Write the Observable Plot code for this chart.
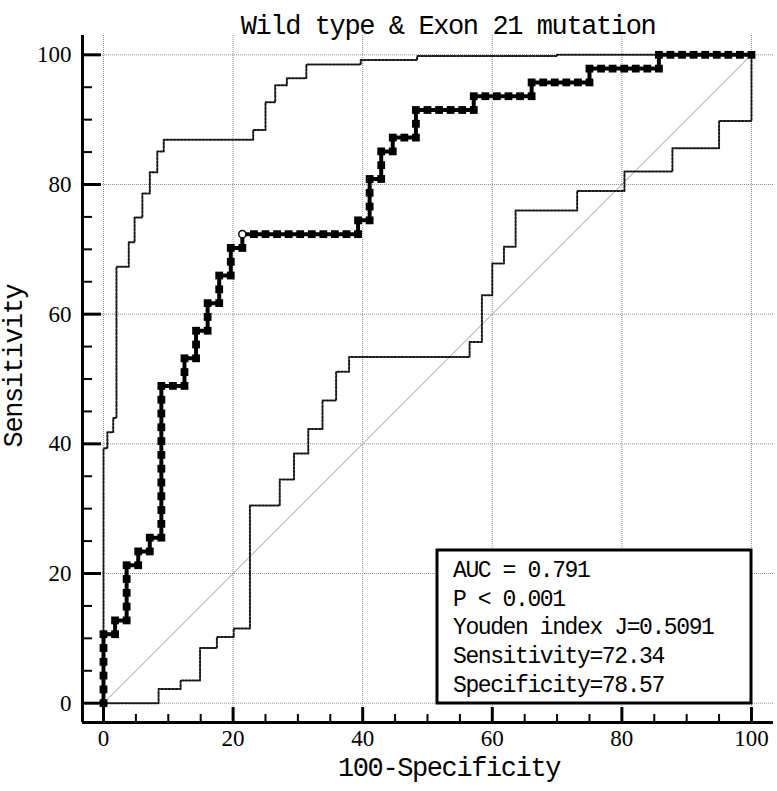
<!DOCTYPE html>
<html><head><meta charset="utf-8">
<script src="https://cdn.jsdelivr.net/npm/d3@7"></script>
<script src="https://cdn.jsdelivr.net/npm/@observablehq/plot@0.6"></script>
<style>
html,body{margin:0;padding:0;background:#fff;}
#chart{width:777px;height:791px;}
</style></head><body><div id="chart"></div>
<script>
// ---- text ----
const title = "Wild type & Exon 21 mutation";
const xLabel = "100-Specificity";
const yLabel = "Sensitivity";
const statsLines = ["AUC = 0.791", "P < 0.001", "Youden index J=0.5091", "Sensitivity=72.34", "Specificity=78.57"];

// ---- ticks ----
const majorTicks = [0, 20, 40, 60, 80, 100];
const minorTicks = [5, 10, 15, 25, 30, 35, 45, 50, 55, 65, 70, 75, 85, 90, 95];

// ---- ROC curve: counts of false positives (of 56 negatives) and true positives (of 47 positives) ----
const nNeg = 56;
const nPos = 47;
const rocFP = [0,0,0,0,0,0,1,1,2,2,2,2,2,3,3,4,4,5,5,5,5,5,5,5,5,5,5,5,5,6,7,7,7,8,8,8,9,9,9,10,10,10,11,11,11,12,12,
  13,14,15,16,17,18,19,20,21,22,22,23,23,23,23,24,24,24,25,25,26,27,27,27,28,29,30,31,32,32,33,34,35,36,37,37,
  38,39,40,41,42,42,43,44,45,46,47,48,48,49,50,51,52,53,54,55,56];
const rocTP = [0,1,2,3,4,5,5,6,6,7,8,9,10,10,11,11,12,12,13,14,15,16,17,18,19,20,21,22,23,23,23,24,25,25,26,27,27,28,29,29,30,31,31,32,33,33,34,
  34,34,34,34,34,34,34,34,34,34,35,35,36,37,38,38,39,40,40,41,41,41,42,43,43,43,43,43,43,44,44,44,44,44,44,45,
  45,45,45,45,45,46,46,46,46,46,46,46,47,47,47,47,47,47,47,47,47];
// optimal criterion (Youden)
const optFP = 12;
const optTP = 34;

// ---- confidence bands (step corners) ----
// upper band: vertical then horizontal (step-before)
const upperX = [0, 0.6, 1.5, 2.0, 3.9, 4.8, 6.0, 7.15, 8.3, 9.3, 23.1, 25.0, 26.5, 28.3, 31.3, 39.7, 48.4, 70, 100];
const upperY = [0, 39.3, 41.8, 44.0, 67.3, 71.1, 74.9, 78.6, 81.9, 85.1, 86.9, 88.4, 92.7, 95.3, 96.4, 98.5, 99.2, 99.8, 100];
// lower band: horizontal then vertical (step-after)
const lowerX = [0, 8.5, 11.9, 14.9, 17.5, 20.1, 22.6, 27.2, 29.4, 31.6, 33.8, 35.9, 37.9, 56.5, 58.4, 60.0, 61.8, 63.6, 73.1, 80.4, 87.8, 95.0, 100];
const lowerY = [0, 2.2, 3.5, 8.5, 10.2, 11.5, 30.5, 34.5, 38.5, 42.3, 46.7, 51.1, 53.4, 55.7, 62.9, 67.8, 70.4, 76.0, 79.0, 82.0, 85.6, 89.8, 100];

// reference diagonal
const refLine = [0, 100];

// ---- build tables ----
const roc = rocFP.map((fp, i) => ({x: fp / nNeg * 100, y: rocTP[i] / nPos * 100, opt: fp === optFP && rocTP[i] === optTP}));
const optPoint = [{x: optFP / nNeg * 100, y: optTP / nPos * 100}];
const upper = upperX.map((x, i) => ({x, y: upperY[i]}));
const lower = lowerX.map((x, i) => ({x, y: lowerY[i]}));

const W = 777, H = 791;
const mL = 82, mR = 4, mT = 35, mB = 69;
const frameW = W - mL - mR, frameH = H - mT - mB;
const xDomain = [-3.24, 103.4];
const yDomain = [-2.98, 102.98];

const gridStyle = {stroke: "#8c8c8c", strokeOpacity: 1, strokeWidth: 1, strokeDasharray: "1,1"};
const serif = "'Liberation Serif', 'Times New Roman', serif";
const mono = "'Liberation Mono', 'Courier New', monospace";
const ciStyle = {stroke: "#1a1a1a", strokeWidth: 2, strokeDasharray: "2,1.6"};

const chart = Plot.plot({
  width: W, height: H,
  marginLeft: mL, marginRight: mR, marginTop: mT, marginBottom: mB,
  style: {background: "#fff", overflow: "visible"},
  x: {domain: xDomain, axis: null},
  y: {domain: yDomain, axis: null},
  marks: [
    Plot.ruleX(majorTicks, {x: d => d, ...gridStyle}),
    Plot.ruleY(majorTicks, {y: d => d, ...gridStyle}),
    Plot.line(refLine, {x: d => d, y: d => d, stroke: "#9a9a9a", strokeWidth: 1}),
    Plot.line(upper, {x: "x", y: "y", curve: "step-before", ...ciStyle}),
    Plot.line(lower, {x: "x", y: "y", curve: "step-after", ...ciStyle}),
    Plot.line(roc, {x: "x", y: "y", stroke: "#000", strokeWidth: 4}),
    Plot.dot(roc.filter(d => !d.opt), {x: "x", y: "y", symbol: "square", r: 4.4, fill: "#000"}),
    Plot.dot(optPoint, {x: "x", y: "y", r: 3.6, fill: "#fff", stroke: "#000", strokeWidth: 1.4}),
    // axis lines
    Plot.ruleX([xDomain[0]], {x: d => d, stroke: "#000", strokeWidth: 3}),
    Plot.ruleY([yDomain[0]], {y: d => d, stroke: "#000", strokeWidth: 3}),
    // inward ticks
    Plot.ruleX(majorTicks, {x: d => d, insetTop: frameH - 15, stroke: "#000", strokeWidth: 3}),
    Plot.ruleX(minorTicks, {x: d => d, insetTop: frameH - 8, stroke: "#000", strokeWidth: 2}),
    Plot.ruleY(majorTicks, {y: d => d, insetRight: frameW - 19, stroke: "#000", strokeWidth: 3}),
    Plot.ruleY(minorTicks, {y: d => d, insetRight: frameW - 10, stroke: "#000", strokeWidth: 2}),
    // tick labels
    Plot.text(majorTicks, {x: d => d, text: d => String(d), frameAnchor: "bottom", dy: 23, fontSize: 23, fontFamily: serif, fill: "#000"}),
    Plot.text(majorTicks, {y: d => d, text: d => String(d), frameAnchor: "left", dx: -11, textAnchor: "end", fontSize: 23, fontFamily: serif, fill: "#000"}),
    // title & axis labels
    Plot.text([title], {text: d => d, frameAnchor: "top", dy: -21, dx: 20, textAnchor: "middle", fontSize: 27, fontFamily: mono, fill: "#000"}),
    Plot.text([xLabel], {text: d => d, frameAnchor: "bottom", dy: 53, dx: 21, textAnchor: "middle", fontSize: 27, fontFamily: mono, fill: "#000"}),
    Plot.text([yLabel], {text: d => d, frameAnchor: "left", rotate: -90, textAnchor: "middle", dx: -69, dy: -13, fontSize: 27, fontFamily: mono, fill: "#000"})
  ]
});

const svg = d3.select(chart);
// tighten monospace letter spacing to match the reference
svg.selectAll("text").filter(function() {
  const t = this.textContent;
  return t === title || t === xLabel || t === yLabel;
}).style("letter-spacing", "-1.4px");

// statistics box (annotation)
const box = svg.append("g").attr("text-anchor", "start");
box.append("rect")
  .attr("x", 437).attr("y", 550).attr("width", 314).attr("height", 153)
  .attr("fill", "#fff").attr("stroke", "#000").attr("stroke-width", 3);
box.selectAll("text.stat").data(statsLines).join("text")
  .attr("class", "stat")
  .attr("x", 453)
  .attr("y", (d, i) => 577 + i * 28.7)
  .attr("text-anchor", "start")
  .attr("font-family", mono)
  .attr("font-size", 23)
  .style("letter-spacing", "-1.4px")
  .attr("fill", "#000")
  .text(d => d);

document.getElementById("chart").appendChild(chart);
</script>
</body></html>
